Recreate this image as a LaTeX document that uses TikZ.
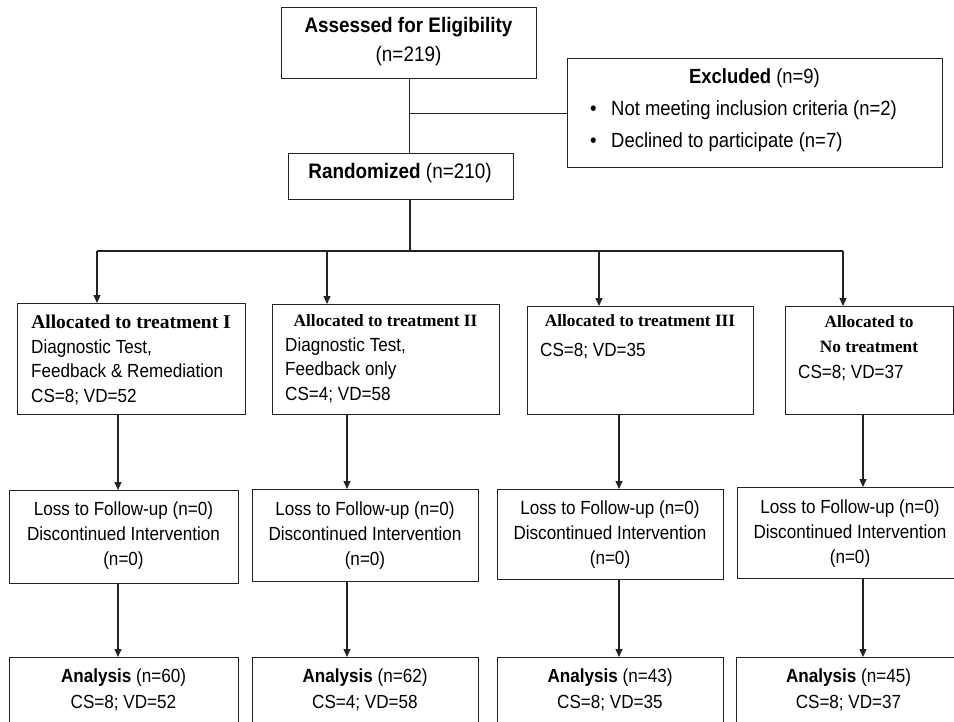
\documentclass[tikz,border=0pt]{standalone}
\usepackage{fontspec}
\setmainfont{Liberation Sans}[FakeStretch=0.9]
\newfontfamily\headserif{Liberation Serif}
\definecolor{linegray}{RGB}{35, 35, 35}
\usepackage{tikz}
\usetikzlibrary{arrows.meta, positioning}

\begin{document}
\begin{tikzpicture}[x=1pt, y=-1pt,
    box/.style={draw=linegray, line width=1.2pt, anchor=north west, inner sep=0pt},
    txt/.style={inner sep=0pt, align=center, anchor=north},
    head/.style={inner sep=0pt, anchor=base, font=\headserif\bfseries\fontsize{17.3}{25}\selectfont},
    link/.style={draw=linegray, line width=1.2pt},
    arr/.style={link, -{Triangle[length=8pt, width=7pt]}}]
  \useasboundingbox (0,0) rectangle (954,721);

  % Enrolment
  \node[box, minimum width=255pt, minimum height=71pt] (assess) at (281,7) {};
  \node[txt, font=\fontsize{21}{29}\selectfont] (assesstext) at (408.5,11.7)
    {\strut\textbf{Assessed for Eligibility}\\(n=219)};

  \node[box, minimum width=375pt, minimum height=109pt] (excl) at (567,58) {};
  \node[inner sep=0pt, anchor=base, font=\fontsize{20.5}{32}\selectfont] (excltext) at (754.5,83)
    {\textbf{Excluded} (n=9)};
  \node[inner sep=0pt, anchor=north west, align=left, font=\fontsize{20.5}{32}\selectfont] (excllist) at (590,92.6)
    {\strut\makebox[21pt][l]{\textbullet}Not meeting inclusion criteria (n=2)\\
     \makebox[21pt][l]{\textbullet}Declined to participate (n=7)};

  \node[box, minimum width=225pt, minimum height=46pt] (rand) at (288,153) {};
  \node[inner sep=0pt, anchor=base, font=\fontsize{21}{29}\selectfont] (randtext) at (400,178)
    {\textbf{Randomized} (n=210)};

  \draw[link] (assess.south) -- (assess.south |- rand.north);
  \draw[link] (assess.south |- excl.west) -- (excl.west);

  % Allocation
  \node[box, minimum width=228pt, minimum height=111pt] (t1) at (17,303) {};
  \node[box, minimum width=227pt, minimum height=110pt] (t2) at (272,304) {};
  \node[box, minimum width=226pt, minimum height=108pt] (t3) at (527,306) {};
  \node[box, minimum width=168pt, minimum height=108pt] (t4) at (785,306) {};

  \node[head, font=\headserif\bfseries\fontsize{19.5}{25}\selectfont] (t1head) at (131,328) {Allocated to treatment I};
  \node[inner sep=0pt, anchor=north west, align=left, font=\fontsize{19}{24.5}\selectfont] (t1text) at (31,335.9)
    {\strut Diagnostic Test,\\Feedback \& Remediation\\CS=8; VD=52};
  \node[head] (t2head) at (385.5,326) {Allocated to treatment II};
  \node[inner sep=0pt, anchor=north west, align=left, font=\fontsize{19}{24.5}\selectfont] (t2text) at (285,333.9)
    {\strut Diagnostic Test,\\Feedback only\\CS=4; VD=58};
  \node[head] (t3head) at (640,326) {Allocated to treatment III};
  \node[inner sep=0pt, anchor=base west, font=\fontsize{19}{24.5}\selectfont] (t3text) at (540,356) {CS=8; VD=35};
  \node[txt, font=\headserif\bfseries\fontsize{17.3}{25}\selectfont] (t4head) at (869,309.5)
    {\strut Allocated to\\No treatment};
  \node[inner sep=0pt, anchor=base west, font=\fontsize{19}{24.5}\selectfont] (t4text) at (798,378) {CS=8; VD=37};

  \coordinate (split) at (410,251);
  \coordinate (b1) at (97,251);
  \coordinate (b2) at (327,251);
  \coordinate (b3) at (599,251);
  \coordinate (b4) at (843,251);
  \draw[link] (rand.south -| split) -- (split);
  \draw[link] (b1) -- (b4);
  \foreach \i in {1,...,4}
    \draw[arr] (b\i) -- (b\i |- t\i.north);

  % Follow-up
  \node[box, minimum width=229pt, minimum height=93pt] (l1) at (9,490) {};
  \node[box, minimum width=226pt, minimum height=92pt] (l2) at (252,489) {};
  \node[box, minimum width=226pt, minimum height=90pt] (l3) at (497,489) {};
  \node[box, minimum width=226pt, minimum height=91pt] (l4) at (737,487) {};
  \foreach \i/\x/\y in {1/123.5/497.5, 2/365/497.5, 3/610/496.5, 4/850/496}
    \node[txt, font=\fontsize{19}{25}\selectfont] (l\i text) at (\x,\y)
      {\strut Loss to Follow-up (n=0)\\Discontinued Intervention\\(n=0)};

  % Analysis
  \node[box, minimum width=229pt, minimum height=80pt] (a1) at (9,657) {};
  \node[box, minimum width=226pt, minimum height=80pt] (a2) at (252,657) {};
  \node[box, minimum width=226pt, minimum height=80pt] (a3) at (497,657) {};
  \node[box, minimum width=226pt, minimum height=80pt] (a4) at (736,657) {};
  \foreach \i/\x/\n/\cs/\vd in {1/123.5/60/8/52, 2/365/62/4/58, 3/610/43/8/35, 4/848.5/45/8/37}
    \node[txt, font=\fontsize{19}{26}\selectfont] (a\i text) at (\x,663.8)
      {\strut\textbf{Analysis} (n=\n)\\CS=\cs; VD=\vd};

  \coordinate (c1) at (118,0);
  \coordinate (c2) at (347,0);
  \coordinate (c3) at (619,0);
  \coordinate (c4) at (863,0);
  \foreach \i in {1,...,4} {
    \draw[arr] (c\i |- t\i.south) -- (c\i |- l\i.north);
    \draw[arr] (c\i |- l\i.south) -- (c\i |- a\i.north);
  }
\end{tikzpicture}
\end{document}
